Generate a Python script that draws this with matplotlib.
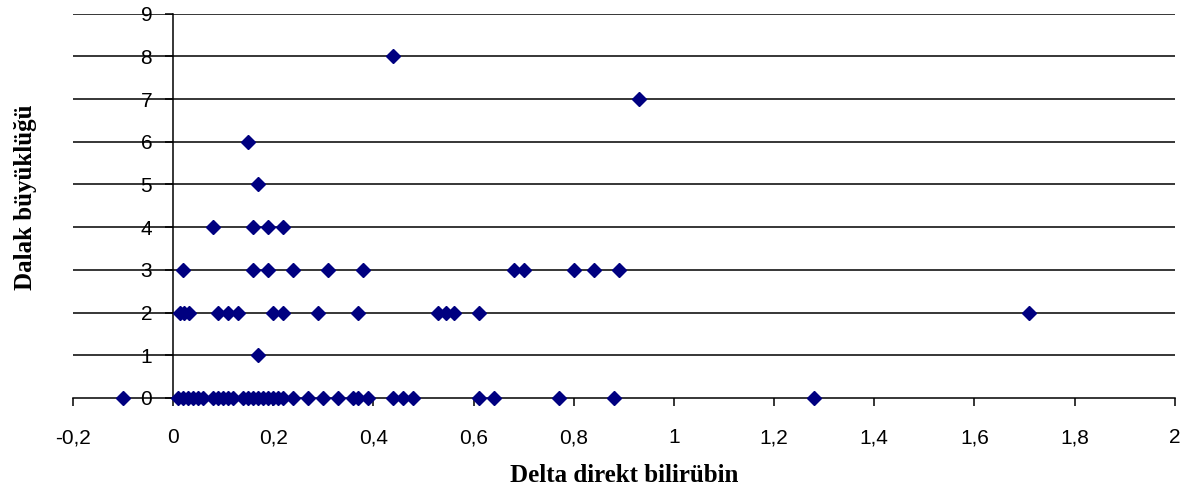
import numpy as np
import matplotlib.pyplot as plt

# Delta direkt bilirubin (x) vs Dalak buyuklugu (y)
x_y0 = [-0.10, 0.01, 0.02, 0.03, 0.04, 0.05, 0.06, 0.08, 0.09, 0.10, 0.11,
        0.12, 0.14, 0.15, 0.16, 0.17, 0.18, 0.19, 0.20, 0.21, 0.22, 0.24,
        0.27, 0.30, 0.33, 0.36, 0.37, 0.39, 0.44, 0.46, 0.48, 0.61, 0.64,
        0.77, 0.88, 1.28]
x_y1 = [0.17]
x_y2 = [0.013, 0.021, 0.031, 0.09, 0.11, 0.13, 0.20, 0.22, 0.29, 0.37,
        0.53, 0.545, 0.56, 0.61, 1.71]
x_y3 = [0.02, 0.16, 0.19, 0.24, 0.31, 0.38, 0.68, 0.70, 0.80, 0.84, 0.89]
x_y4 = [0.08, 0.16, 0.19, 0.22]
x_y5 = [0.17]
x_y6 = [0.15]
x_y7 = [0.93]
x_y8 = [0.44]

groups = [(x_y0, 0), (x_y1, 1), (x_y2, 2), (x_y3, 3), (x_y4, 4),
          (x_y5, 5), (x_y6, 6), (x_y7, 7), (x_y8, 8)]

xticks = [-0.2, 0, 0.2, 0.4, 0.6, 0.8, 1.0, 1.2, 1.4, 1.6, 1.8, 2.0]
xtick_labels = ["-0,2", "0", "0,2", "0,4", "0,6", "0,8", "1", "1,2",
                "1,4", "1,6", "1,8", "2"]
yticks = list(range(0, 10))

fig = plt.figure(figsize=(11.95, 4.93), dpi=100)
ax = fig.add_axes([0.061, 0.193, 0.922, 0.779])

# horizontal grid lines
for yv in yticks[1:]:
    ax.axhline(yv, color='black', lw=1.1, zorder=1)

xs = np.concatenate([np.asarray(g, float) for g, _ in groups])
ys = np.concatenate([np.full(len(g), v, float) for g, v in groups])
ax.plot(xs, ys, linestyle='none', marker='D', ms=7.5, color='#000080',
        clip_on=False, zorder=3)

ax.set_xlim(-0.2, 2.0)
ax.set_ylim(0, 9)

ax.spines['left'].set_position(('data', 0))
ax.spines['top'].set_visible(False)
ax.spines['right'].set_visible(False)
for s in ('left', 'bottom'):
    ax.spines[s].set_linewidth(1.1)
    ax.spines[s].set_zorder(2)

ax.set_xticks(xticks)
ax.set_xticklabels(xtick_labels, fontsize=15, fontfamily='Liberation Sans')
ax.set_yticks(yticks)
ax.set_yticklabels([str(v) for v in yticks], fontsize=15,
                   fontfamily='Liberation Sans')
ax.tick_params(axis='x', direction='out', length=6, width=1.1, pad=16)
ax.tick_params(axis='y', direction='out', length=6, width=1.1, pad=9)

ax.set_xlabel("Delta direkt bilirübin", fontsize=18, fontweight='bold',
              fontfamily='Liberation Serif', labelpad=12)
fig.text(0.021, 0.60, "Dalak büyüklüğü", rotation=90, fontsize=18,
         fontweight='bold', fontfamily='Liberation Serif',
         ha='center', va='center')

fig.savefig('out.png', dpi=100)
